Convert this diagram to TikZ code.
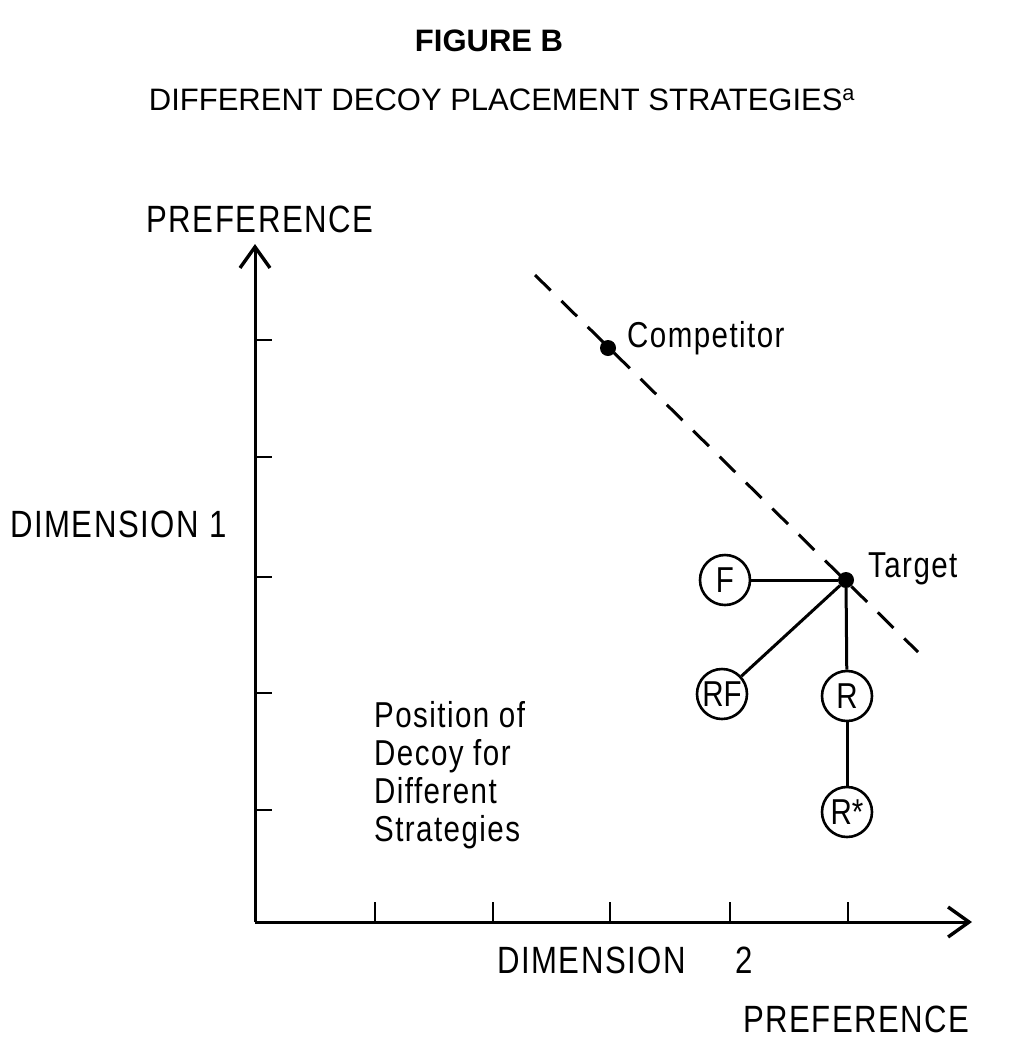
\documentclass[tikz,border=0pt]{standalone}
\usepackage{fontspec}
\setmainfont{Liberation Sans}
\newfontfamily\condfont[FakeStretch=0.82,LetterSpace=4]{Liberation Sans}
\newfontfamily\circfont[FakeStretch=0.82]{Liberation Sans}
\usetikzlibrary{arrows.meta}
\tikzset{
  axis/.style={line width=3pt, -{Straight Barb[length=21pt,width=30pt,line width=3.4pt]}},
  tick/.style={line width=2.6pt},
  lbl/.style={inner sep=0pt, font=\condfont\fontsize{38}{42}\selectfont},
  small/.style={inner sep=0pt, font=\condfont\fontsize{36}{38}\selectfont},
  decoy/.style={circle, draw, line width=2.6pt, minimum size=50pt, inner sep=0pt, font=\circfont\fontsize{36}{36}\selectfont},
  dot/.style={circle, fill, minimum size=16pt, inner sep=0pt},
  link/.style={line width=3pt},
  dashline/.style={line width=3pt, dash pattern=on 22pt off 15pt}
}
\begin{document}
\begin{tikzpicture}[x=1pt,y=-1pt]
\useasboundingbox (0,0) rectangle (1014,1042);
% titles
\node[inner sep=0pt, anchor=base, font=\bfseries\fontsize{31}{34}\selectfont] (title) at (489,51) {FIGURE B};
\node[inner sep=0pt, anchor=base, font=\fontsize{31}{34}\selectfont] (subtitle) at (502,110) {DIFFERENT DECOY PLACEMENT STRATEGIES\textsuperscript{a}};
% axes
\coordinate (O) at (255,922);
\coordinate (ytop) at (255,244);
\coordinate (xend) at (972,922);
\draw[axis] (O) -- (ytop);
\draw[axis] (O) -- (xend);
\foreach \y in {340,457,577,693,810} \draw[tick] (255,\y) -- (272,\y);
\foreach \x in {375,493,610,730,848} \draw[tick] (\x,922) -- (\x,902);
% axis labels
\node[lbl, anchor=base] (ypref) at (260,232) {PREFERENCE};
\node[lbl, anchor=base west] (dim1) at (10,537) {DIMENSION 1};
\node[lbl, anchor=base west] (dim2) at (497,973) {DIMENSION\hspace{1.3em}2};
\node[lbl, anchor=base east] (xpref) at (970,1032) {PREFERENCE};
% dashed line
\coordinate (d1) at (535,275);
\coordinate (d2) at (918,652);
\draw[dashline] (d1) -- (d2);
% points
\node[dot] (comp) at (608,348) {};
\node[small, anchor=base west] (complbl) at (627,347) {Competitor};
\node[dot] (target) at (846,580) {};
\node[small, anchor=base west] (targetlbl) at (868,577) {Target};
% decoys
\node[decoy] (F) at (725,580) {F};
\node[decoy] (RF) at (722,694) {RF};
\node[decoy] (R) at (847,696) {R};
\node[decoy] (Rs) at (847,812) {R*};
\draw[link] (F) -- (target);
\draw[link] (RF) -- (target);
\draw[link] (R) -- (target);
\draw[link] (R) -- (Rs);
% text block
\node[small, anchor=north west, align=left] (pos) at (374,701) {Position of\\Decoy for\\Different\\Strategies};
\end{tikzpicture}
\end{document}
